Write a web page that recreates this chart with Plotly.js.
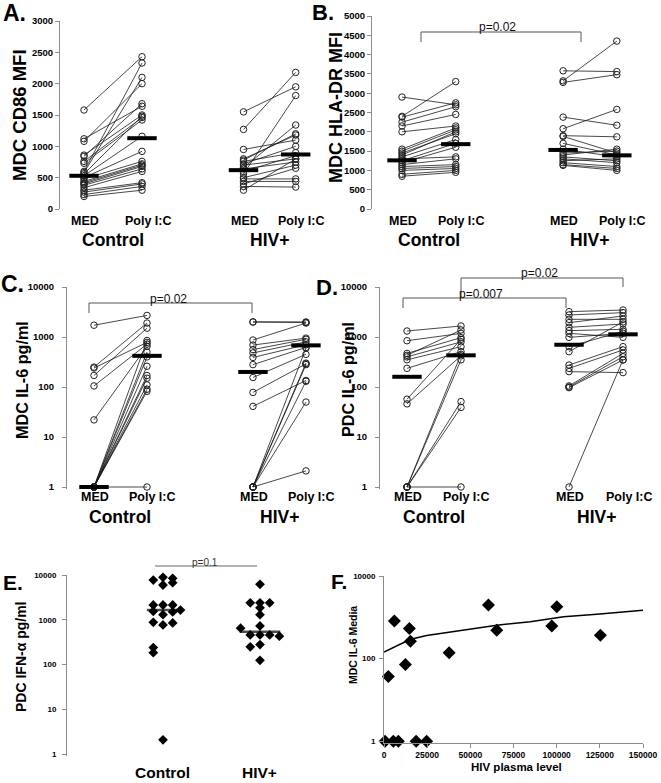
<!DOCTYPE html>
<html>
<head>
<meta charset="utf-8">
<script src="https://cdn.plot.ly/plotly-3.0.1.min.js"></script>
<style>
html, body { margin: 0; padding: 0; background: #fff; }
#chart { width: 661px; height: 783px; }
</style>
</head>
<body>
<div id="chart"></div>
<script>
// column positions: Control MED, Control Poly I:C, HIV+ MED, HIV+ Poly I:C
var posA = [1, 2, 3.75, 4.65];
var pos = [1, 2, 4, 5];
var colLabels = ['MED', 'Poly I:C', 'MED', 'Poly I:C'];
var groups = ['Control', 'HIV+'];

// A. MDC CD86 MFI
var a_ctrl_med  = [1580, 1120, 1080, 860, 840, 760, 730, 600, 580, 560, 530, 500, 480, 440, 420, 400, 380, 340, 300, 270, 230, 200];
var a_ctrl_poly = [2430, 1640, 2000, 1500, 1680, 1460, 1420, 2330, 2100, 1480, 1160, 920, 760, 720, 700, 680, 640, 600, 420, 400, 360, 300];
var a_hiv_med   = [1550, 1270, 950, 800, 780, 760, 720, 700, 660, 640, 600, 560, 500, 480, 440, 400, 360, 300];
var a_hiv_poly  = [1950, 2180, 1100, 1180, 1200, 900, 1000, 800, 1340, 750, 850, 1810, 700, 480, 440, 650, 350, 800];
var a_median    = [530, 1130, 620, 870];

// B. MDC HLA-DR MFI
var b_ctrl_med  = [2900, 2400, 2380, 2250, 2150, 2000, 1550, 1500, 1450, 1400, 1350, 1300, 1250, 1200, 1150, 1100, 1050, 1000, 900, 850];
var b_ctrl_poly = [2700, 3300, 2750, 2650, 2450, 2150, 2100, 2050, 1950, 2000, 1800, 1350, 1700, 1600, 1300, 1150, 1100, 1050, 1000, 950];
var b_hiv_med   = [3580, 3320, 3280, 2380, 2080, 1900, 1880, 1700, 1550, 1450, 1400, 1350, 1300, 1250, 1200, 1150, 1130];
var b_hiv_poly  = [3560, 4350, 3480, 2170, 2580, 1870, 1450, 1400, 1350, 1500, 1550, 1250, 1200, 1300, 1100, 1050, 1000];
var b_median    = [1260, 1680, 1530, 1390];

// C. MDC IL-6 pg/ml
var c_ctrl_med  = [1720, 250, 240, 170, 105, 22, 1, 1, 1, 1, 1, 1, 1, 1, 1, 1];
var c_ctrl_poly = [2700, 1900, 780, 1500, 720, 650, 850, 500, 400, 260, 170, 150, 110, 90, 82, 1];
var c_hiv_med   = [2000, 2000, 870, 690, 560, 480, 390, 280, 155, 78, 41, 1, 1, 1, 1, 1, 1];
var c_hiv_poly  = [2000, 1950, 1900, 950, 900, 800, 700, 620, 450, 290, 135, 600, 280, 300, 130, 50, 2.1];
var c_median    = [1, 420, 200, 680];

// D. PDC IL-6 pg/ml
var d_ctrl_med  = [1318, 843, 470, 430, 400, 350, 236, 57, 46, 1, 1, 1, 1, 1];
var d_ctrl_poly = [1660, 1180, 970, 1380, 800, 640, 510, 900, 420, 350, 51, 39, 1, 450];
var d_hiv_med   = [3211, 2754, 2256, 1935, 1561, 1340, 1184, 984, 641, 509, 275, 236, 203, 105, 100, 97, 1];
var d_hiv_poly  = [3467, 3069, 2256, 2630, 1820, 1424, 984, 1184, 1300, 2000, 641, 550, 194, 471, 404, 347, 350];
var d_median    = [160, 430, 700, 1130];

// E. PDC IFN-alpha pg/ml (beeswarm offsets within each group)
var e_ctrl     = [8870, 8430, 7730, 6730, 5980, 2140, 2140, 2140, 1550, 1300, 1500, 1650, 880, 770, 850, 240, 185, 2.1];
var e_ctrl_off = [0, 0.1, -0.1, 0.1, 0, -0.1, 0, 0.1, -0.1, 0, 0.1, 0.18, -0.1, 0, 0.1, -0.1, -0.1, 0];
var e_hiv      = [6180, 2400, 2400, 2400, 1850, 1300, 730, 650, 460, 460, 460, 430, 280, 250, 125];
var e_hiv_off  = [0, -0.1, 0, 0.1, 0, 0, 0, -0.2, -0.1, 0, 0.1, 0.2, 0, -0.1, 0];
var e_median   = [1650, 540];

// F. MDC IL-6 Media vs HIV plasma level
var f_x = [600, 5400, 8300, 18600, 24700, 2500, 6000, 14700, 15300, 12400, 37700, 60500, 65300, 97200, 100100, 125300];
var f_y = [1, 1, 1, 1, 1, 37, 810, 535, 265, 72, 140, 1980, 490, 620, 1800, 370];
var f_fit_x = [0, 15000, 24700, 46000, 65300, 84700, 104000, 123300, 150000];
var f_fit_y = [145, 290, 363, 490, 645, 779, 1028, 1194, 1493];

var W = 661, H = 783;
var FONT = 'Liberation Sans, Arial, Helvetica, sans-serif';
function fx(p) { return p / W; }
function fy(p) { return 1 - p / H; }

function pairTrace(xa, ya, p1, p2, med, poly) {
  var x = [], y = [];
  for (var i = 0; i < med.length; i++) {
    x.push(p1, p2, null);
    y.push(med[i], poly[i], null);
  }
  return {
    x: x, y: y, xaxis: xa, yaxis: ya, type: 'scatter', mode: 'lines+markers',
    cliponaxis: false, hoverinfo: 'skip',
    line: {color: '#1a1a1a', width: 0.8},
    marker: {symbol: 'circle-open', size: 6.5, color: '#222', line: {width: 1}}
  };
}
function medianTrace(xa, ya, p, m, size) {
  return {
    x: p, y: m, xaxis: xa, yaxis: ya, type: 'scatter', mode: 'markers',
    cliponaxis: false, hoverinfo: 'skip',
    marker: {symbol: 'line-ew', size: size, line: {width: 4, color: '#000'}}
  };
}

var data = [];
function panel(xa, ya, p, cm, cp, hm, hp, med) {
  data.push(pairTrace(xa, ya, p[0], p[1], cm, cp));
  data.push(pairTrace(xa, ya, p[2], p[3], hm, hp));
  data.push(medianTrace(xa, ya, p, med, 21));
}
panel('x', 'y', posA, a_ctrl_med, a_ctrl_poly, a_hiv_med, a_hiv_poly, a_median);
panel('x2', 'y2', pos, b_ctrl_med, b_ctrl_poly, b_hiv_med, b_hiv_poly, b_median);
panel('x3', 'y3', pos, c_ctrl_med, c_ctrl_poly, c_hiv_med, c_hiv_poly, c_median);
panel('x4', 'y4', pos, d_ctrl_med, d_ctrl_poly, d_hiv_med, d_hiv_poly, d_median);

// E
data.push({
  x: e_ctrl_off.map(function (o) { return 1 + o; }).concat(e_hiv_off.map(function (o) { return 2 + o; })),
  y: e_ctrl.concat(e_hiv), xaxis: 'x5', yaxis: 'y5', type: 'scatter', mode: 'markers',
  cliponaxis: false, hoverinfo: 'skip',
  marker: {symbol: 'diamond', size: 7.5, color: '#000'}
});
data.push({
  x: [1, 2], y: e_median, xaxis: 'x5', yaxis: 'y5', type: 'scatter', mode: 'markers',
  cliponaxis: false, hoverinfo: 'skip',
  marker: {symbol: 'line-ew', size: [23, 29], line: {width: 2.5, color: '#000'}}
});

// F
data.push({
  x: f_fit_x, y: f_fit_y, xaxis: 'x6', yaxis: 'y6', type: 'scatter', mode: 'lines',
  hoverinfo: 'skip', line: {color: '#000', width: 1.5}
});
data.push({
  x: f_x, y: f_y, xaxis: 'x6', yaxis: 'y6', type: 'scatter', mode: 'markers',
  cliponaxis: false, hoverinfo: 'skip',
  marker: {symbol: 'diamond', size: 10, color: '#000'}
});

var logVals = [1, 10, 100, 1000, 10000];
var logText = ['1', '10', '100', '1000', '10000'];

function yax(anchor, top, bottom, extra) {
  var o = {
    anchor: anchor, domain: [fy(bottom), fy(top)],
    showline: true, linecolor: '#8c8c8c', linewidth: 1,
    ticks: 'outside', ticklen: 4, tickcolor: '#8c8c8c',
    showgrid: false, zeroline: false,
    tickfont: {family: FONT, size: 9.5, color: '#000', weight: 'bold'}
  };
  for (var k in extra) o[k] = extra[k];
  return o;
}
function xax(anchor, left, right, range) {
  return {anchor: anchor, domain: [fx(left), fx(right)], range: range, visible: false};
}

var layout = {
  width: W, height: H,
  margin: {l: 0, r: 0, t: 0, b: 0},
  paper_bgcolor: '#fff', plot_bgcolor: 'rgba(0,0,0,0)',
  showlegend: false,
  font: {family: FONT, color: '#000'},
  xaxis: xax('y', 60, 325, [0.586, 5.155]),
  yaxis: yax('x', 21, 209, {range: [0, 3000], dtick: 500, tick0: 0}),
  xaxis2: xax('y2', 372, 650, [0.441, 5.618]),
  yaxis2: yax('x2', 16, 209, {range: [0, 5000], dtick: 500, tick0: 0}),
  xaxis3: xax('y3', 67, 325, [0.491, 5.359]),
  yaxis3: yax('x3', 287, 489, {type: 'log', range: [-0.04, 4], tickvals: logVals, ticktext: logText, ticklabelstandoff: 6}),
  xaxis4: xax('y4', 380, 650, [0.5, 5.5]),
  yaxis4: yax('x4', 287, 489, {type: 'log', range: [-0.04, 4], tickvals: logVals, ticktext: logText, ticklabelstandoff: 6}),
  xaxis5: xax('y5', 67, 330, [0.0103, 2.722]),
  yaxis5: yax('x5', 575, 756, {type: 'log', range: [-0.04, 4], tickvals: logVals, ticktext: logText, ticklabelstandoff: 4,
    tickfont: {family: FONT, size: 8, color: '#000', weight: 'bold'}}),
  xaxis6: {
    anchor: 'y6', domain: [fx(384), fx(643)], range: [0, 150000],
    showline: true, linecolor: '#8c8c8c', linewidth: 1,
    ticks: 'outside', ticklen: 4, tickcolor: '#8c8c8c',
    tickvals: [0, 25000, 50000, 75000, 100000, 125000, 150000], tickformat: 'd',
    showgrid: false, zeroline: false,
    tickfont: {family: FONT, size: 8.5, color: '#000', weight: 'bold'}
  },
  yaxis6: yax('x6', 576, 743, {type: 'log', range: [-0.04, 4], tickvals: [1, 100, 10000], ticktext: ['1', '100', '10000'],
    ticklabelstandoff: 2, tickfont: {family: FONT, size: 8, color: '#000', weight: 'bold'}}),
  annotations: [],
  shapes: []
};

function txt(s, x, y, size, extra) {
  var a = {
    text: s, x: fx(x), y: fy(y), xref: 'paper', yref: 'paper',
    xanchor: 'center', yanchor: 'middle', showarrow: false,
    font: {family: FONT, size: size, color: '#000', weight: 'bold'}
  };
  for (var k in extra) a[k] = extra[k];
  layout.annotations.push(a);
}
function vtxt(s, x, y, size) { txt(s, x, y, size, {textangle: -90}); }
function colText(xa, p, yLab, yGrp) {
  for (var i = 0; i < 4; i++) {
    layout.annotations.push({
      text: colLabels[i], x: p[i], y: fy(yLab), xref: xa, yref: 'paper',
      xanchor: 'center', yanchor: 'middle', showarrow: false, xshift: i % 2 ? 6 : 1,
      font: {family: FONT, size: 12.5, color: '#000', weight: 'bold'}
    });
  }
  for (var g = 0; g < 2; g++) {
    layout.annotations.push({
      text: groups[g], x: (p[2 * g] + p[2 * g + 1]) / 2, y: fy(yGrp), xref: xa, yref: 'paper',
      xanchor: 'center', yanchor: 'middle', showarrow: false,
      font: {family: FONT, size: 17.5, color: '#000', weight: 'bold'}
    });
  }
}
function seg(x0, y0, x1, y1, color, width) {
  layout.shapes.push({
    type: 'line', xref: 'paper', yref: 'paper',
    x0: fx(x0), y0: fy(y0), x1: fx(x1), y1: fy(y1),
    line: {color: color || '#555', width: width || 1}
  });
}
function bracket(x0, x1, yTop, yL, yR) {
  seg(x0, yL, x0, yTop);
  seg(x0, yTop, x1, yTop);
  seg(x1, yTop, x1, yR);
}
function ptxt(s, x, y, size, color) {
  txt(s, x, y, size || 12, {font: {family: FONT, size: size || 12, color: color || '#111'}});
}

// panel letters
txt('A.', 14, 13, 23); txt('B.', 323, 13, 22);
txt('C.', 12, 284, 23); txt('D.', 327, 287, 22);
txt('E.', 13, 582, 21); txt('F.', 339, 581, 21);

// y titles
vtxt('MDC CD86 MFI', 19, 115, 18.5);
vtxt('MDC HLA-DR MFI', 336, 108, 18);
vtxt('MDC IL-6 pg/ml', 22, 380, 16.2);
vtxt('PDC IL-6 pg/ml', 348, 380, 16.2);
vtxt('PDC IFN-α pg/ml', 21, 657, 14);
vtxt('MDC IL-6 Media', 353, 645, 10.5);
txt('HIV plasma level', 516, 767, 11.5);

// category labels
colText('x', posA, 221, 240);
colText('x2', pos, 221, 240);
colText('x3', pos, 497, 517);
colText('x4', pos, 497, 517);
layout.annotations.push({
  text: groups[0], x: 1, y: fy(772), xref: 'x5', yref: 'paper', showarrow: false,
  xanchor: 'center', yanchor: 'middle', font: {family: FONT, size: 15.5, color: '#000', weight: 'bold'}
});
layout.annotations.push({
  text: groups[1], x: 2, y: fy(772), xref: 'x5', yref: 'paper', showarrow: false,
  xanchor: 'center', yanchor: 'middle', font: {family: FONT, size: 15.5, color: '#000', weight: 'bold'}
});

// significance brackets
bracket(421, 581, 32, 42, 42); ptxt('p=0.02', 497, 27);
bracket(89, 252, 303, 313, 313); ptxt('p=0.02', 168, 299);
bracket(403, 566, 298, 308, 308); ptxt('p=0.007', 481, 294);
bracket(461, 623, 278, 298, 287); ptxt('p=0.02', 539, 273);
seg(155, 566, 257, 566, '#9a9a9a', 1.5); ptxt('p=0.1', 205, 562, 10, '#333');

Plotly.newPlot('chart', data, layout, {staticPlot: true, displayModeBar: false});
</script>
</body>
</html>
